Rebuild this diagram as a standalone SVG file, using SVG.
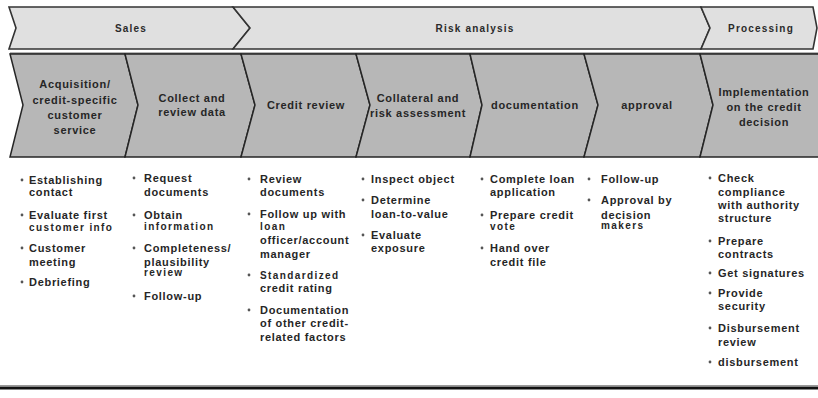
<svg xmlns="http://www.w3.org/2000/svg" width="818" height="398" viewBox="0 0 818 398">
<style>
.phase{fill:#e0e0e0;stroke:#333333;stroke-width:1.6;stroke-linejoin:miter}
.step{fill:#b7b7b7;stroke:#262626;stroke-width:1.5}
.ph{font-family:"Liberation Sans",Arial,sans-serif;font-weight:bold;font-size:10px;letter-spacing:1.2px;fill:#2a2a2a;text-anchor:middle}
.st{font-family:"Liberation Sans",Arial,sans-serif;font-weight:bold;font-size:11px;letter-spacing:0.7px;fill:#262626;text-anchor:middle}
.it{font-family:"Liberation Sans",Arial,sans-serif;font-weight:bold;font-size:11px;letter-spacing:0.7px;fill:#262626}
.sm{font-size:10px;letter-spacing:1.4px}
.b{fill:#555}
</style>
<rect width="818" height="398" fill="#ffffff"/>
<g id="phase-sales">
<path class="phase" d="M9,7 L233,7 L250,28 L233,49 L9,49 L16,28 Z"/>
<text class="ph" x="131" y="32">Sales</text>
</g>
<g id="phase-risk">
<path class="phase" d="M233,7 L701,7 L710,28 L701,49 L233,49 L250,28 Z"/>
<text class="ph" x="475" y="32">Risk analysis</text>
</g>
<g id="phase-processing">
<path class="phase" d="M701,7 L813,7 L817,28 L813,49 L701,49 L710,28 Z"/>
<text class="ph" x="761" y="32">Processing</text>
</g>
<line x1="10" y1="54" x2="818" y2="54" stroke="#6e6e6e" stroke-width="3"/>
<g id="step-acquisition">
<path class="step" d="M10,54 L125,54 L138,105 L125,157 L10,157 L23,105 Z"/>
<text class="st" x="75" y="88">Acquisition/</text>
<text class="st" x="75" y="104">credit-specific</text>
<text class="st" x="75" y="119">customer</text>
<text class="st" x="75" y="134">service</text>
</g>
<g id="step-collect">
<path class="step" d="M125,54 L241,54 L255,105 L241,157 L125,157 L138,105 Z"/>
<text class="st" x="192" y="102">Collect and</text>
<text class="st" x="192" y="116">review data</text>
</g>
<g id="step-credit-review">
<path class="step" d="M241,54 L356,54 L370,105 L356,157 L241,157 L255,105 Z"/>
<text class="st" x="306" y="109">Credit review</text>
</g>
<g id="step-collateral">
<path class="step" d="M356,54 L470,54 L482,105 L470,157 L356,157 L370,105 Z"/>
<text class="st" x="418" y="102">Collateral and</text>
<text class="st" x="418" y="117">risk assessment</text>
</g>
<g id="step-documentation">
<path class="step" d="M470,54 L584,54 L598,105 L584,157 L470,157 L482,105 Z"/>
<text class="st" x="535" y="109">documentation</text>
</g>
<g id="step-approval">
<path class="step" d="M584,54 L700,54 L713,105 L700,157 L584,157 L598,105 Z"/>
<text class="st" x="647" y="109">approval</text>
</g>
<g id="step-implementation">
<path class="step" d="M700,54 L821,54 L821,157 L700,157 L713,105 Z"/>
<text class="st" x="764" y="96">Implementation</text>
<text class="st" x="764" y="111">on the credit</text>
<text class="st" x="764" y="126">decision</text>
</g>
<g id="list-acquisition">
<circle class="b" cx="22" cy="180" r="1.4"/><text class="it" x="29" y="184">Establishing</text><text class="it" x="29" y="196">contact</text>
<circle class="b" cx="22" cy="215" r="1.4"/><text class="it" x="29" y="219">Evaluate first</text><text class="it sm" x="29" y="231">customer info</text>
<circle class="b" cx="22" cy="248" r="1.4"/><text class="it" x="29" y="252">Customer</text><text class="it" x="29" y="266">meeting</text>
<circle class="b" cx="22" cy="282" r="1.4"/><text class="it" x="29" y="286">Debriefing</text>
</g>
<g id="list-collect">
<circle class="b" cx="134" cy="178" r="1.4"/><text class="it" x="144" y="182">Request</text><text class="it" x="144" y="196">documents</text>
<circle class="b" cx="134" cy="215" r="1.4"/><text class="it" x="144" y="219">Obtain</text><text class="it sm" x="144" y="230">information</text>
<circle class="b" cx="134" cy="248" r="1.4"/><text class="it" x="144" y="252">Completeness/</text><text class="it" x="144" y="266">plausibility</text><text class="it sm" x="144" y="276">review</text>
<circle class="b" cx="134" cy="296" r="1.4"/><text class="it" x="144" y="300">Follow-up</text>
</g>
<g id="list-credit-review">
<circle class="b" cx="249" cy="179" r="1.4"/><text class="it" x="260" y="183">Review</text><text class="it" x="260" y="196">documents</text>
<circle class="b" cx="249" cy="214" r="1.4"/><text class="it" x="260" y="218">Follow up with</text><text class="it sm" x="260" y="230">loan</text><text class="it" x="260" y="244">officer/account</text><text class="it" x="260" y="258">manager</text>
<circle class="b" cx="249" cy="275" r="1.4"/><text class="it sm" x="260" y="279">Standardized</text><text class="it" x="260" y="292">credit rating</text>
<circle class="b" cx="249" cy="310" r="1.4"/><text class="it" x="260" y="314">Documentation</text><text class="it" x="260" y="327">of other credit-</text><text class="it" x="260" y="341">related factors</text>
</g>
<g id="list-collateral">
<circle class="b" cx="363" cy="179" r="1.4"/><text class="it" x="371" y="183">Inspect object</text>
<circle class="b" cx="363" cy="200" r="1.4"/><text class="it" x="371" y="204">Determine</text><text class="it" x="371" y="218">loan-to-value</text>
<circle class="b" cx="363" cy="235" r="1.4"/><text class="it" x="371" y="239">Evaluate</text><text class="it" x="371" y="252">exposure</text>
</g>
<g id="list-documentation">
<circle class="b" cx="482" cy="179" r="1.4"/><text class="it" x="490" y="183">Complete loan</text><text class="it" x="490" y="196">application</text>
<circle class="b" cx="482" cy="215" r="1.4"/><text class="it" x="490" y="219">Prepare credit</text><text class="it sm" x="490" y="230">vote</text>
<circle class="b" cx="482" cy="248" r="1.4"/><text class="it" x="490" y="252">Hand over</text><text class="it" x="490" y="266">credit file</text>
</g>
<g id="list-approval">
<circle class="b" cx="589" cy="179" r="1.4"/><text class="it" x="601" y="183">Follow-up</text>
<circle class="b" cx="589" cy="200" r="1.4"/><text class="it" x="601" y="204">Approval by</text><text class="it" x="601" y="219">decision</text><text class="it sm" x="601" y="229">makers</text>
</g>
<g id="list-implementation">
<circle class="b" cx="710" cy="178" r="1.4"/><text class="it" x="718" y="182">Check</text><text class="it" x="718" y="196">compliance</text><text class="it" x="718" y="209">with authority</text><text class="it" x="718" y="222">structure</text>
<circle class="b" cx="710" cy="241" r="1.4"/><text class="it" x="718" y="245">Prepare</text><text class="it" x="718" y="258">contracts</text>
<circle class="b" cx="710" cy="273" r="1.4"/><text class="it" x="718" y="277">Get signatures</text>
<circle class="b" cx="710" cy="293" r="1.4"/><text class="it" x="718" y="297">Provide</text><text class="it" x="718" y="310">security</text>
<circle class="b" cx="710" cy="328" r="1.4"/><text class="it" x="718" y="332">Disbursement</text><text class="it" x="718" y="346">review</text>
<circle class="b" cx="710" cy="362" r="1.4"/><text class="it" x="718" y="366">disbursement</text>
</g>
<line x1="0" y1="388" x2="818" y2="388" stroke="#111" stroke-width="3"/>
<line x1="0" y1="385.5" x2="818" y2="385.5" stroke="#999" stroke-width="1"/>
</svg>
